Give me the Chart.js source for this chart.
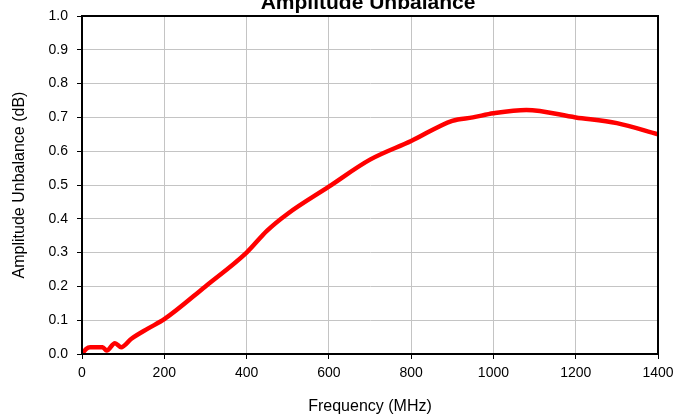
<!DOCTYPE html>
<html>
<head>
<meta charset="utf-8">
<title>Amplitude Unbalance</title>
<script src="https://cdn.jsdelivr.net/npm/chart.js@4.4.1/dist/chart.umd.min.js"></script>
<style>
    html, body { margin: 0; padding: 0; background: #fff; }
    #wrap { position: relative; width: 676px; height: 417px; }
</style>
</head>
<body>
<div id="wrap"><canvas id="line-chart"></canvas></div>
<script>
// Chart data
// ------------------------------
var chartTitle = "Amplitude Unbalance";
var xTitle = "Frequency (MHz)";
var yTitle = "Amplitude Unbalance (dB)";

var frequency = [0, 10, 20, 50, 60, 80, 95, 120, 160, 200, 300, 400, 450, 500, 600, 700, 800, 900, 950, 1000, 1080, 1200, 1300, 1400];
var unbalance = [0.0, 0.015, 0.02, 0.02, 0.01, 0.032, 0.02, 0.045, 0.075, 0.103, 0.20, 0.30, 0.365, 0.415, 0.495, 0.575, 0.63, 0.69, 0.70, 0.712, 0.722, 0.70, 0.683, 0.65];

var xTicks = [0, 200, 400, 600, 800, 1000, 1200, 1400];
var yTicks = [0.0, 0.1, 0.2, 0.3, 0.4, 0.5, 0.6, 0.7, 0.8, 0.9, 1.0];

Chart.defaults.font.family = "'Liberation Sans', Arial, sans-serif";
Chart.defaults.color = "#000";

// title sits over the plot and runs off the top edge, plus the box around the plot
var frame = {
    id: "frame",
    afterDraw: function(chart) {
        var ctx = chart.ctx;
        var a = chart.chartArea;
        ctx.save();
        ctx.strokeStyle = "#000";
        ctx.lineWidth = 2;
        ctx.strokeRect(a.left, a.top, a.right - a.left, a.bottom - a.top);
        ctx.font = "bold 21px 'Liberation Sans', Arial, sans-serif";
        ctx.fillStyle = "#000";
        ctx.textAlign = "center";
        ctx.textBaseline = "alphabetic";
        ctx.fillText(chartTitle, (a.left + a.right) / 2 - 2, 9);
        ctx.restore();
    }
};

var points = frequency.map(function(f, i) {
    return { x: f, y: unbalance[i] };
});

var config = {
    type: "scatter",
    data: {
        datasets: [{
            data: points,
            showLine: true,
            borderColor: "#ff0000",
            backgroundColor: "#ff0000",
            borderWidth: 4.5,
            pointRadius: 0,
            cubicInterpolationMode: "monotone"
        }]
    },
    options: {
        responsive: true,
        maintainAspectRatio: false,
        animation: false,
        layout: { padding: { top: 16, right: 18, bottom: 0, left: 0 } },
        plugins: {
            legend: { display: false },
            tooltip: { enabled: false }
        },
        scales: {
            x: {
                type: "linear",
                min: xTicks[0],
                max: xTicks[xTicks.length - 1],
                afterBuildTicks: function(scale) {
                    scale.ticks = xTicks.map(function(v) { return { value: v }; });
                },
                afterFit: function(scale) {
                    scale.height = 63;
                    scale.paddingLeft = 0;
                    scale.paddingRight = 0;
                },
                grid: { color: "#c4c4c4", lineWidth: 1, tickLength: 5, tickColor: "#000" },
                border: { color: "#000", width: 2 },
                ticks: {
                    font: { size: 14 },
                    padding: 6,
                    maxRotation: 0,
                    callback: function(v) { return String(v); }
                },
                title: { display: true, text: xTitle, font: { size: 16 }, padding: { top: 4, bottom: 1 } }
            },
            y: {
                min: yTicks[0],
                max: yTicks[yTicks.length - 1],
                afterBuildTicks: function(scale) {
                    scale.ticks = yTicks.map(function(v) { return { value: v }; });
                },
                afterFit: function(scale) {
                    scale.width = 82;
                    scale.paddingTop = 0;
                    scale.paddingBottom = 0;
                },
                grid: { color: "#c4c4c4", lineWidth: 1, tickLength: 5, tickColor: "#000" },
                border: { color: "#000", width: 2 },
                ticks: {
                    font: { size: 14 },
                    padding: 9,
                    callback: function(v) { return Number(v).toFixed(1); }
                },
                title: { display: true, text: yTitle, font: { size: 16 }, padding: { top: 10, bottom: 4 } }
            }
        }
    },
    plugins: [frame]
};

var lineChart = new Chart(document.getElementById("line-chart"), config);
</script>
</body>
</html>
